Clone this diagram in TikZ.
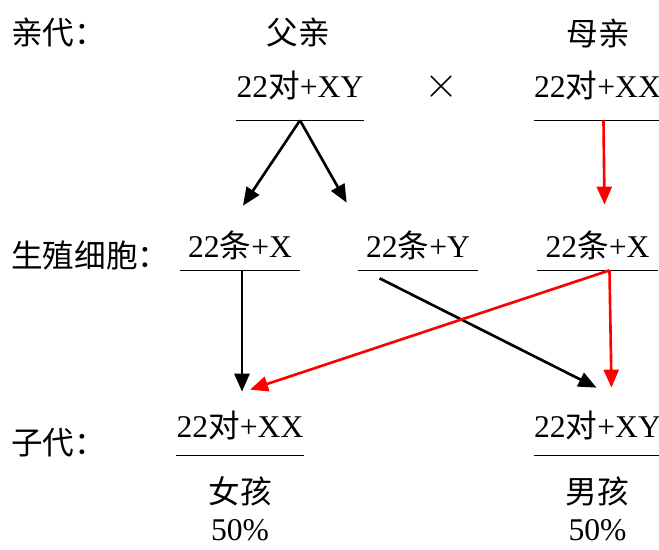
\documentclass[tikz,border=0pt]{standalone}
\usepackage{fontspec}
\setmainfont{Liberation Serif}
\newfontfamily\cjk{Noto Sans CJK SC}
\usetikzlibrary{arrows.meta}
\tikzset{
  every node/.style={font=\fontsize{18}{22}\selectfont},
  par/.style={minimum width=2.42cm,minimum height=1.4cm,inner sep=0pt},
  gam/.style={minimum width=2.4cm,minimum height=1.0cm,inner sep=0pt},
  kid/.style={minimum width=2.42cm,minimum height=1.2cm,inner sep=0pt},
  arr/.style={-{Triangle[length=3.6mm,width=3mm]},line width=1.5pt},
}
\begin{document}
\begin{tikzpicture}
    \useasboundingbox (0,0) rectangle (13.18,-11);
    % row labels
    \node[anchor=west] (lpar) at (0.1,-0.66) {\cjk 亲代：};
    \node[anchor=west] (lgam) at (0.1,-5.1) {\cjk 生殖细胞：};
    \node[anchor=west] (lkid) at (0.1,-8.86) {\cjk 子代：};
    % parents
    \node (dad) at (5.96,-0.66) {\cjk 父亲};
    \node (mom) at (11.96,-0.66) {\cjk 母亲};
    \node[par] (fa) at (6.0,-1.7) {22{\cjk 对}+XY};
    \node[font=\fontsize{24}{26}\selectfont] (cross) at (8.84,-1.74) {$\times$};
    \node[par] (ma) at (11.95,-1.7) {22{\cjk 对}+XX};
    % gametes
    \node[gam] (g1) at (4.8,-4.9) {22{\cjk 条}+X};
    \node[gam] (g2) at (8.36,-4.9) {22{\cjk 条}+Y};
    \node[gam] (g3) at (11.95,-4.9) {22{\cjk 条}+X};
    % children
    \node[kid] (c1) at (4.8,-8.5) {22{\cjk 对}+XX};
    \node[kid] (c2) at (11.95,-8.5) {22{\cjk 对}+XY};
    \node (girl) at (4.8,-9.82) {\cjk 女孩};
    \node (pgirl) at (4.8,-10.6) {50\%};
    \node (boy) at (11.95,-9.82) {\cjk 男孩};
    \node (pboy) at (11.95,-10.6) {50\%};
    \foreach \n in {fa,ma,g1,g2,g3,c1,c2}
        \draw[line width=0.8pt] (\n.south west) -- (\n.south east);
    % arrows
    \draw[arr] (fa.south) -- ([xshift=0.06cm,yshift=0.28cm]g1.north);
    \draw[arr] (fa.south) -- ([xshift=-0.22cm,yshift=0.34cm]g2.north west);
    \draw[arr,red] ([xshift=0.12cm]ma.south) -- ([xshift=0.14cm,yshift=0.3cm]g3.north);
    \draw[arr] ([xshift=0.04cm]g1.south) -- ([xshift=0.04cm,yshift=0.06cm]c1.north);
    \draw[arr] ([xshift=0.44cm,yshift=-0.16cm]g2.south west) -- ([xshift=-0.02cm,yshift=0.14cm]c2.north);
    \draw[arr,red] ([xshift=0.24cm]g3.south) -- ([xshift=0.2cm,yshift=0.1cm]c1.north);
    \draw[arr,red] ([xshift=0.24cm]g3.south) -- ([xshift=0.28cm,yshift=0.14cm]c2.north);
\end{tikzpicture}
\end{document}
